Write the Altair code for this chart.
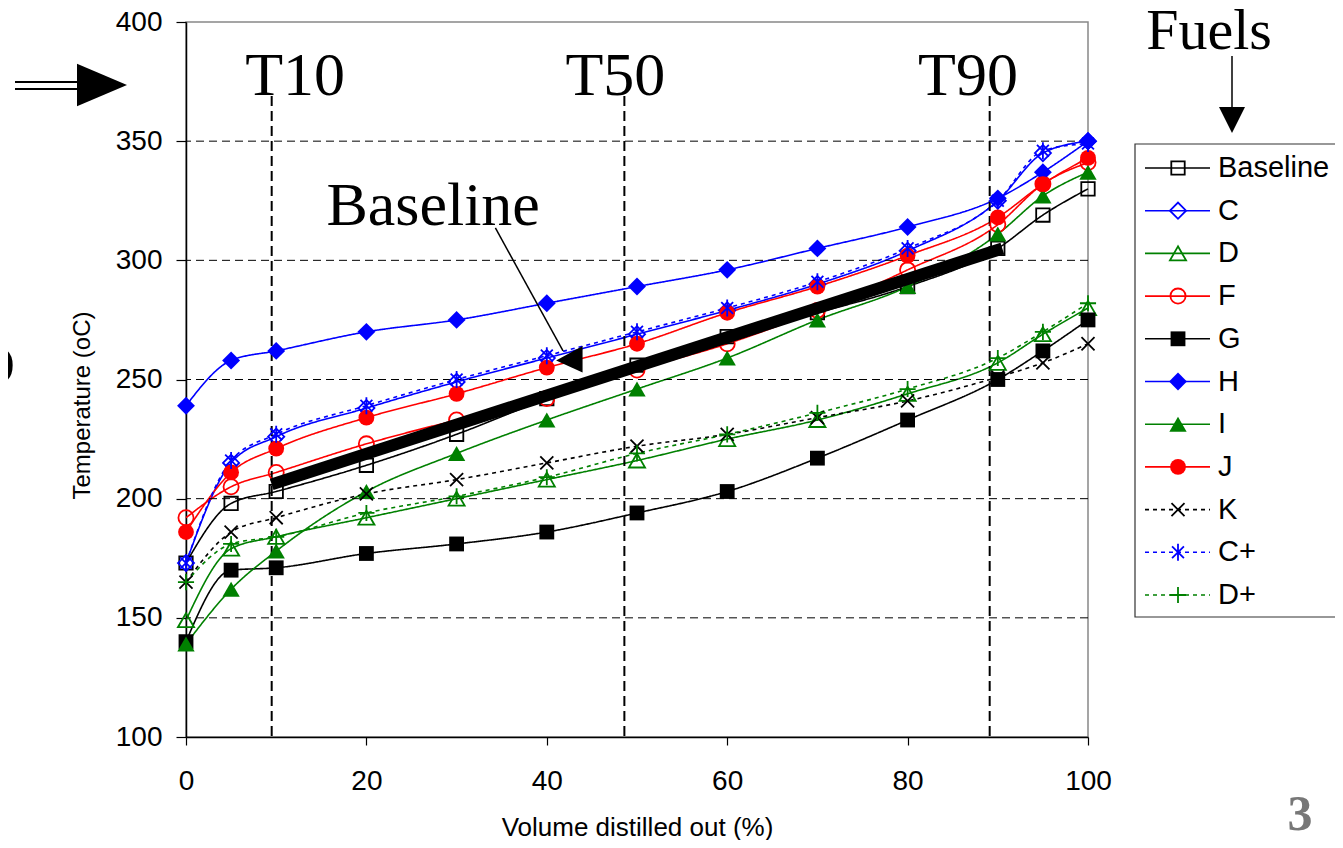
import altair as alt
import pandas as pd

# ---------------- data ----------------
volume = [0, 5, 10, 20, 30, 40, 50, 60, 70, 80, 90, 95, 100]
fuels = ["Baseline", "C", "D", "F", "G", "H", "I", "J", "K", "C+", "D+"]

baseline = [173, 198, 203, 214, 227, 242, 256, 268, 278, 289, 305, 319, 330]
fuel_c = [173, 215, 226, 238, 249, 259, 269, 279, 290, 304, 325, 345, 350]
fuel_d = [149, 179, 184, 192, 200, 208, 216, 225, 233, 244, 257, 269, 280]
fuel_f = [192, 205, 211, 223, 233, 242, 254, 265, 279, 296, 315, 332, 341]
fuel_g = [140, 170, 171, 177, 181, 186, 194, 203, 217, 233, 250, 262, 275]
fuel_h = [239, 258, 262, 270, 275, 282, 289, 296, 305, 314, 326, 337, 350]
fuel_i = [139, 162, 178, 203, 219, 233, 246, 259, 275, 289, 311, 327, 337]
fuel_j = [186, 211, 221, 234, 244, 255, 265, 278, 289, 302, 318, 332, 343]
fuel_k = [165, 186, 192, 202, 208, 215, 222, 227, 234, 241, 251, 257, 265]
fuel_cplus = [173, 216, 227, 239, 250, 260, 270, 280, 291, 305, 325, 346, 349]
fuel_dplus = [165, 181, 184, 194, 201, 209, 219, 227, 236, 246, 259, 270, 282]

series_values = [baseline, fuel_c, fuel_d, fuel_f, fuel_g, fuel_h, fuel_i,
                 fuel_j, fuel_k, fuel_cplus, fuel_dplus]

y_ticks = [100, 150, 200, 250, 300, 350, 400]
x_ticks = [0, 20, 40, 60, 80, 100]
grid_values = [150, 200, 250, 300, 350]
t_points = ["T10", "T50", "T90"]
t_volume = [9.5, 48.6, 89.1]
thick_x = [9.5, 90.5]
thick_y = [206, 305]

# ---------------- styles ----------------
BLUE, GREEN, RED, BLACK = "#0000ff", "#008000", "#ff0000", "#000000"
line_colors = [BLACK, BLUE, GREEN, RED, BLACK, BLUE, GREEN, RED, BLACK, BLUE, GREEN]
solid, dotted = [1, 0], [4, 4]
dashes = [solid] * 8 + [dotted] * 3
X_PATH = "M-1,-1L1,1M-1,1L1,-1"
AST_PATH = "M-0.8,-0.8L0.8,0.8M-0.8,0.8L0.8,-0.8M0,-1.15L0,1.15"
PLUS_PATH = "M-1,0L1,0M0,-1L0,1"
marker = {
    "Baseline": dict(shape="square", filled=False, size=180),
    "C": dict(shape="diamond", filled=False, size=260),
    "D": dict(shape="triangle-up", filled=False, size=260),
    "F": dict(shape="circle", filled=False, size=230),
    "G": dict(shape="square", filled=True, size=220),
    "H": dict(shape="diamond", filled=True, size=320),
    "I": dict(shape="triangle-up", filled=True, size=300),
    "J": dict(shape="circle", filled=True, size=250),
    "K": dict(shape=X_PATH, filled=False, size=170),
    "C+": dict(shape=AST_PATH, filled=False, size=220),
    "D+": dict(shape=PLUS_PATH, filled=False, size=260),
}

SANS = "Liberation Sans"
SERIF = "Liberation Serif"

rows = []
for f, vals in zip(fuels, series_values):
    for v, t in zip(volume, vals):
        rows.append({"fuel": f, "volume": v, "temp": t})
df = pd.DataFrame(rows)

xscale = alt.Scale(domain=[0, 100], nice=False, zero=False)
yscale = alt.Scale(domain=[100, 400], nice=False, zero=False)
color_scale = alt.Scale(domain=fuels, range=line_colors)
dash_scale = alt.Scale(domain=fuels, range=dashes)

XAXIS = alt.Axis(values=x_ticks, title="Volume distilled out (%)", orient="bottom",
                 tickSize=8, labelPadding=22, titlePadding=19, grid=False,
                 labelFlush=False, labelFontSize=28, titleFontSize=26)
YAXIS = alt.Axis(values=y_ticks, title="Temperature (oC)", orient="left",
                 tickSize=10, labelPadding=14, grid=False, labelFlush=False,
                 labelFontSize=28, titleFontSize=24, titleX=-92, titleY=383)


def xn(field):
    return alt.X(field, scale=xscale, axis=XAXIS)


def yn(field):
    return alt.Y(field, scale=yscale, axis=YAXIS)


# series lines
lines = alt.Chart(df).mark_line(interpolate="monotone", strokeWidth=1.6).encode(
    x=xn("volume:Q"),
    y=yn("temp:Q"),
    color=alt.Color("fuel:N", scale=color_scale, legend=None),
    strokeDash=alt.StrokeDash("fuel:N", scale=dash_scale, legend=None),
)

# gridlines
grid = alt.Chart(pd.DataFrame({"g": grid_values})).mark_rule(
    color="black", strokeDash=[8, 5], strokeWidth=1
).encode(y=yn("g:Q"))

# T lines
tdf = pd.DataFrame({"label": t_points, "vol": t_volume, "top": [369] * 3, "bot": [100] * 3})
tlines = alt.Chart(tdf).mark_rule(
    color="black", strokeDash=[10, 5], strokeWidth=2
).encode(x=xn("vol:Q"), y=yn("top:Q"), y2="bot:Q")

points = []
for f, c in zip(fuels, line_colors):
    m = marker[f]
    points.append(
        alt.Chart(df).transform_filter(alt.datum.fuel == f).mark_point(
            shape=m["shape"], filled=m["filled"], size=m["size"], color=c,
            opacity=1, strokeWidth=1.8
        ).encode(x=xn("volume:Q"), y=yn("temp:Q"))
    )

# thick "Baseline" annotation line
thick = alt.Chart(pd.DataFrame({"vol": thick_x, "temp": thick_y})).mark_line(
    color="black", strokeWidth=12, strokeCap="butt"
).encode(x=xn("vol:Q"), y=yn("temp:Q"))

# annotation texts in data coordinates
tlabels = alt.Chart(pd.DataFrame({"label": t_points, "vol": [12.1, 47.6, 86.7],
                                  "temp": [369.5] * 3})).mark_text(
    font=SERIF, fontSize=62, color="black", baseline="alphabetic", align="center"
).encode(x=xn("vol:Q"), y=yn("temp:Q"), text="label:N")

base_text = alt.Chart(pd.DataFrame({"t": ["Baseline"], "vol": [27.4], "temp": [315]})).mark_text(
    font=SERIF, fontSize=62, color="black", baseline="alphabetic", align="center"
).encode(x=xn("vol:Q"), y=yn("temp:Q"), text="t:N")

arrow_line = alt.Chart(pd.DataFrame({"vol": [34.3, 41.8], "temp": [313.6, 262]})).mark_line(
    color="black", strokeWidth=1.5
).encode(x=xn("vol:Q"), y=yn("temp:Q"))

arrow_head = alt.Chart(pd.DataFrame({"vol": [42.5], "temp": [258.5]})).mark_point(
    shape="M1,-1L-1,0.1L1,1Z", filled=True, color="black", size=700, opacity=1
).encode(x=xn("vol:Q"), y=yn("temp:Q"))

one = pd.DataFrame({"a": [0]})

# Fuels label + arrow (outside plot, pixel placement)
fuels_text = alt.Chart(pd.DataFrame({"t": ["Fuels"]})).mark_text(
    font=SERIF, fontSize=58, color="black", baseline="alphabetic", align="center"
).encode(x=alt.value(1023), y=alt.value(27), text="t:N")
fuels_line = alt.Chart(one).mark_rule(color="black", strokeWidth=1.5).encode(
    x=alt.value(1046), y=alt.value(34), y2=alt.value(88))
fuels_head = alt.Chart(one).mark_point(
    shape="M-1,-1L1,-1L0,1Z", filled=True, color="black", size=676, opacity=1
).encode(x=alt.value(1046), y=alt.value(98))

# double arrow at left
dbl1 = alt.Chart(one).mark_rule(color="black", strokeWidth=2).encode(
    x=alt.value(-171), x2=alt.value(-108), y=alt.value(60))
dbl2 = alt.Chart(one).mark_rule(color="black", strokeWidth=2).encode(
    x=alt.value(-171), x2=alt.value(-108), y=alt.value(67))
dbl_head = alt.Chart(one).mark_point(
    shape="M-1,-0.85L1,0L-1,0.85Z", filled=True, color="black", size=2500, opacity=1
).encode(x=alt.value(-84), y=alt.value(63))

d_frag = alt.Chart(pd.DataFrame({"t": ["D"]})).mark_text(
    font=SERIF, fontSize=60, color="black", align="right", baseline="middle"
).encode(x=alt.value(-171), y=alt.value(345), text="t:N")

page_num = alt.Chart(pd.DataFrame({"t": ["3"]})).mark_text(
    font=SERIF, fontSize=50, fontWeight="bold", color="#777777",
    align="center", baseline="middle"
).encode(x=alt.value(1114), y=alt.value(793), text="t:N")

# ---------------- custom legend ----------------
legend_df = pd.DataFrame({"fuel": fuels, "row": list(range(len(fuels)))})
PX_PER_DEG = 715 / 300.0
row_to_temp = f"400 - (146 + 42.7 * datum.row) / {PX_PER_DEG}"

legend_box = alt.Chart(one).mark_rect(fill="white", stroke="#333333", strokeWidth=1.2).encode(
    x=alt.value(949), x2=alt.value(1200), y=alt.value(122), y2=alt.value(595))
legend_rules = alt.Chart(legend_df).transform_calculate(ly=row_to_temp).mark_rule(
    strokeWidth=1.6
).encode(
    x=alt.value(959), x2=alt.value(1024), y=yn("ly:Q"),
    color=alt.Color("fuel:N", scale=color_scale, legend=None),
    strokeDash=alt.StrokeDash("fuel:N", scale=dash_scale, legend=None),
)
legend_pts = []
for f, c in zip(fuels, line_colors):
    m = marker[f]
    legend_pts.append(
        alt.Chart(legend_df).transform_filter(alt.datum.fuel == f)
        .transform_calculate(ly=row_to_temp).mark_point(
            shape=m["shape"], filled=m["filled"], size=m["size"], color=c,
            opacity=1, strokeWidth=1.8
        ).encode(x=alt.value(992), y=yn("ly:Q"))
    )
legend_text = alt.Chart(legend_df).transform_calculate(ly=row_to_temp).mark_text(
    font=SANS, fontSize=29, color="black", align="left", baseline="middle"
).encode(x=alt.value(1032), y=yn("ly:Q"), text="fuel:N")

chart = alt.layer(
    lines, grid, tlines, *points, thick, tlabels, base_text, arrow_line, arrow_head,
    fuels_text, fuels_line, fuels_head, dbl1, dbl2, dbl_head, d_frag, page_num,
    legend_box, legend_rules, *legend_pts, legend_text
).properties(
    width=902, height=715,
    padding={"left": 178, "top": 14, "right": 247, "bottom": 103},
    autosize=alt.AutoSizeParams(type="none"),
).configure_view(stroke="#888888", strokeWidth=1.5).configure_axis(
    domainColor="black", domainWidth=1.5, tickColor="black", tickWidth=1.2,
    labelFont=SANS, labelColor="black",
    titleFont=SANS, titleFontWeight="normal", titleColor="black",
)

chart.save("out.html", embed_options={"renderer": "svg", "actions": False})
